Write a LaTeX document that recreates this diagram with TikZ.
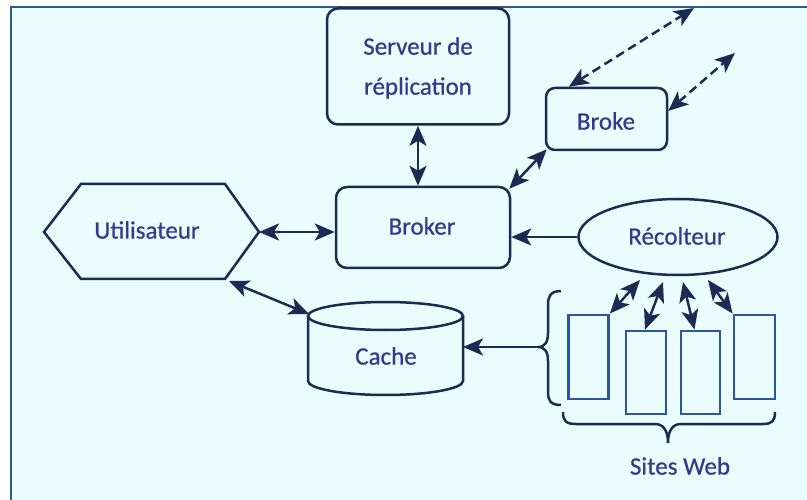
\documentclass[tikz,border=0pt]{standalone}
\usepackage{fontspec}
\setmainfont{Carlito}
\newfontfamily\lblfont{Carlito}[FakeBold=0.6]
\usetikzlibrary{arrows.meta,shapes.geometric,calc}
\definecolor{bgc}{HTML}{EAFCFE}
\definecolor{framec}{HTML}{2E5A92}
\definecolor{linec}{HTML}{1C2B52}
\definecolor{txtc}{HTML}{36388A}
\definecolor{sitec}{HTML}{2C55A0}
\tikzset{
  tip/.tip={Stealth[length=20pt,width=17pt,inset=5pt]},
  lbl/.style={text=txtc,font=\lblfont\fontsize{25}{40}\selectfont,align=center,inner sep=0pt},
  rbox/.style={draw=linec,line width=2.5pt,rounded corners=11pt,fill=bgc,inner sep=0pt},
  sitebox/.style={draw=sitec,line width=2.8pt,fill=bgc,inner sep=0pt},
  link/.style={draw=linec,line width=2.5pt,tip-tip},
  onelink/.style={draw=linec,line width=2.5pt,-tip},
  dlink/.style={link,dash pattern=on 9pt off 5pt},
  outline/.style={draw=linec,line width=2.5pt},
}
\begin{document}
\begin{tikzpicture}[x=1pt,y=-1pt]
\useasboundingbox (0,0) rectangle (807,500);
\fill[bgc] (10,7) rectangle (807,500);
\draw[framec,line width=2.5pt] (11,500) -- (11,7) -- (807,7);

% Serveur de replication
\node[rbox,minimum width=182pt,minimum height=116pt] (serveur) at (418,66.5) {};
\node[lbl] (serveurtxt) at (418,68) {Serveur de\\réplication};

% Broke
\node[rbox,minimum width=121pt,minimum height=62pt,rounded corners=9pt] (broke) at (606.5,119) {};
\node[lbl] (broketxt) at (606,121) {Broke};

% Broker
\node[rbox,minimum width=174pt,minimum height=81pt] (broker) at (423,227.5) {};
\node[lbl] (brokertxt) at (422,226) {Broker};

% Utilisateur hexagon
\coordinate (uL) at (44,232);
\coordinate (uTL) at (81,184);
\coordinate (uTR) at (225,184);
\coordinate (uR) at (259,232);
\coordinate (uBR) at (225,279);
\coordinate (uBL) at (81,279);
\draw[outline,fill=bgc,line join=miter] (uL) -- (uTL) -- (uTR) -- (uR) -- (uBR) -- (uBL) -- cycle;
\node[lbl] (util) at (147,230) {Utilisateur};

% Recolteur
\node[draw=linec,line width=2.5pt,ellipse,fill=bgc,minimum width=199pt,minimum height=76pt,inner sep=0pt] (recolt) at (678,237) {};
\node[lbl] (recolttxt) at (677,236) {Récolteur};

% Cache cylinder
\draw[outline,fill=bgc] (308,316) -- (308,381) arc[start angle=180,end angle=360,x radius=77.5pt,y radius=14pt] -- (463,316);
\draw[outline,fill=bgc] (385.5,316) ellipse[x radius=77.5pt,y radius=14pt];
\coordinate (cacheE) at (463,347);
\coordinate (cacheNW) at (309,314);
\node[lbl] (cache) at (386,356) {Cache};

% Sites web
\node[sitebox,minimum width=40pt,minimum height=84pt] (s1) at (588.5,357) {};
\node[sitebox,minimum width=40pt,minimum height=83pt] (s2) at (646,372.5) {};
\node[sitebox,minimum width=39pt,minimum height=83pt] (s3) at (700.5,372.5) {};
\node[sitebox,minimum width=41pt,minimum height=84pt] (s4) at (754.5,357) {};

% braces
\coordinate (lb) at (538,347);
\draw[draw=linec,line width=2.5pt] (561,291) .. controls (550,291) and (548,297) .. (548,305) -- (548,333) .. controls (548,342) and (545,347) .. (lb) .. controls (545,347) and (548,352) .. (548,361) -- (548,392) .. controls (548,400) and (550,405) .. (561,405);
\coordinate (bb) at (668,443);
\draw[draw=linec,line width=2.5pt] (563,412) .. controls (563,421) and (566,424) .. (576,424) -- (655,424) .. controls (663,424) and (668,430) .. (bb) .. controls (668,430) and (673,424) .. (681,424) -- (763,424) .. controls (772,424) and (775,421) .. (775,412);
\node[lbl] (sites) at (680,466) {Sites Web};

% connectors
\draw[link] (serveur.south) -- (serveur.south |- broker.north);
\draw[link] ([xshift=-2pt,yshift=-3pt]broker.north east) -- ([xshift=2pt,yshift=2pt]broke.south west);
\coordinate (d1) at (694,8);
\coordinate (d2) at (735,53);
\draw[dlink] ([xshift=24pt]broke.north west) -- (d1);
\draw[dlink] ([yshift=8pt]broke.east) -- (d2);
\draw[link] (uR) -- (uR -| broker.west);
\draw[onelink] (recolt.west) -- (recolt.west -| broker.east);
\coordinate (ucs) at (229,281);
\draw[link] (ucs) -- (cacheNW);
\draw[onelink] (lb) -- (cacheE);
\coordinate (r1) at (640,280);
\coordinate (r2) at (663,282);
\coordinate (r3) at (683,282);
\coordinate (r4) at (708,280);
\draw[link] (r1) -- (s1.north east);
\draw[link] (r2) -- ([xshift=-1pt]s2.north);
\draw[link] (r3) -- ([xshift=-6pt]s3.north);
\draw[link] (r4) -- (s4.north west);
\end{tikzpicture}
\end{document}
